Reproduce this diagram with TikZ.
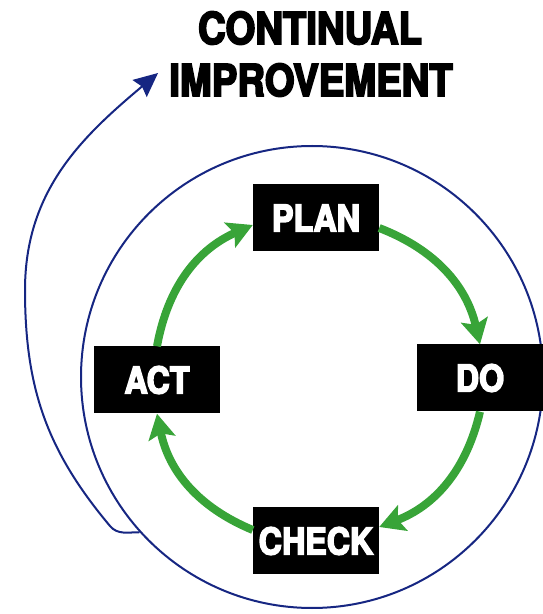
\documentclass[tikz,border=0pt]{standalone}
\usepackage{fontspec}
\newfontfamily\heavyfont[FakeStretch=0.87,FakeBold=4]{TeX Gyre Heros}
\usetikzlibrary{arrows.meta}
\definecolor{ringblue}{RGB}{22,38,130}
\definecolor{cyclegreen}{RGB}{56,164,56}

\begin{document}
\begin{tikzpicture}[x=1pt,y=1pt,
  stage/.style={fill=black,text=white,inner sep=0pt,minimum width=126pt,minimum height=67pt,
    font=\heavyfont\bfseries\fontsize{37}{37}\selectfont},
  headline/.style={inner sep=0pt,font=\heavyfont\bfseries\fontsize{44}{44}\selectfont},
  cyc/.style={cyclegreen,line width=8pt,-{Stealth[length=25pt,width=27pt,inset=5pt]},bend left=28},
  ring/.style={ringblue,line width=2pt}]
  \useasboundingbox (0,0) rectangle (543,614);
  \pgfmathsetmacro{\ringR}{231}

  \node[headline] (title1) at (310,586) {CONTINUAL};
  \node[headline] (title2) at (311,534) {IMPROVEMENT};
  \coordinate (tip) at ([xshift=-11pt,yshift=7pt]title2.west);

  \node[ring,draw,circle,inner sep=0pt,minimum size=2*\ringR pt] (ring) at (312,237) {};

  \node[stage] (plan)  at (316,396) {PLAN};
  \node[stage] (do)    at (480,236) {DO};
  \node[stage] (check) at (316,73)  {CHECK};
  \node[stage] (act)   at (157,234) {ACT};

  \draw[cyc] (act.north) to ([yshift=-7pt]plan.west);
  \draw[cyc] ([yshift=-10pt]plan.east) to (do.north);
  \draw[cyc] (do.south) to ([yshift=14pt]check.east);
  \draw[cyc] ([yshift=11pt]check.west) to (act.south);

  % spiral out of the ring up to the title
  \draw[ring,-{Stealth[length=24pt,width=22pt,inset=3pt]}] (ring.222)
    to[out=180,in=-50] (110,88) to[out=130,in=-90] (25,324) to[out=90,in=-140] (tip);
\end{tikzpicture}
\end{document}
